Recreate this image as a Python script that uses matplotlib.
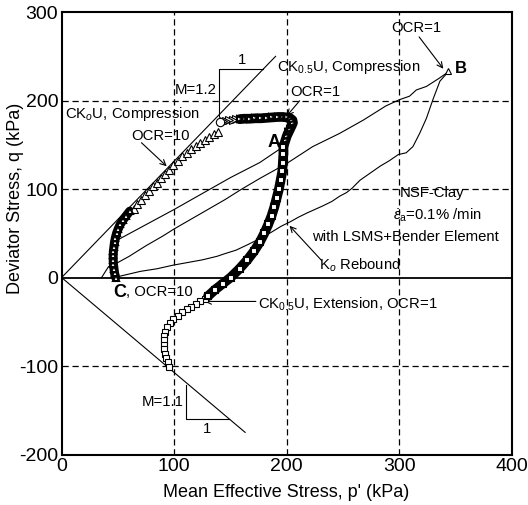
import matplotlib
matplotlib.use("Agg")
import matplotlib.pyplot as plt
from matplotlib.ticker import FuncFormatter

plt.rcParams["font.family"] = ["Liberation Sans", "DejaVu Sans"]
plt.rcParams["mathtext.fontset"] = "custom"
plt.rcParams["mathtext.rm"] = "Liberation Sans"
plt.rcParams["mathtext.it"] = "Liberation Sans:italic"
plt.rcParams["mathtext.bf"] = "Liberation Sans:bold"

# ---- stress paths (p', q) in kPa ----
# CK0U compression, OCR=10: dense start near C, then sparse triangles
ck0_dense_p = [48, 47, 46.5, 46, 45.8, 45.8, 46, 46.5, 47, 47.8, 48.8, 50.3, 52, 54.5, 57.5, 60.5]
ck0_dense_q = [0, 5, 10, 15, 20, 25, 30, 35, 40, 45, 50, 55, 60, 65, 70, 75]
ck0_p = [64, 67, 70.5, 74, 77.5, 81, 84.5, 88, 91.5, 95, 99, 103, 107, 111, 115, 119, 123, 127, 131, 135, 139]
ck0_q = [78, 83, 88, 93, 98, 103, 107, 112, 117, 122, 127, 132, 137, 141, 145, 149, 152, 156, 159, 162, 165]

# CK0.5U compression, OCR=1 (from A)
comp_dense_p = [197, 198, 199, 200, 201.5, 203, 204.5, 205.5, 205, 203, 200, 196, 192, 187, 182, 177, 172, 167, 162, 158]
comp_dense_q = [148, 152, 156, 160, 164, 168, 172, 175, 178, 180, 181, 181.5, 181.5, 181, 180.5, 180, 180, 179.5, 179.5, 179]
comp_p = [155, 152, 149, 146, 143]
comp_q = [179, 178.5, 178, 177.5, 177]
comp_end_p = [141]
comp_end_q = [176]

# CK0.5U extension, OCR=1 (from A)
ext_dense_p = [197, 197, 196.5, 196, 194.5, 193, 191, 189, 186.5, 183.5, 180, 176, 171, 165, 158, 150, 143, 136, 130]
ext_dense_q = [148, 140, 130, 120, 110, 100, 90, 80, 70, 60, 50, 40, 30, 20, 10, 0, -7, -14, -21]
ext_p = [127, 123, 119, 115, 111, 107, 103, 99, 96, 93.5, 92, 91, 90.5, 90.5, 91, 92, 93, 94.5, 95.5]
ext_q = [-24, -27, -30, -33, -36, -39, -43, -47, -51, -56, -61, -66, -71, -76, -81, -86, -91, -96, -101]

# K0 loading to B
load_p = [35.5, 38, 41.5, 45, 50, 60, 75, 90, 100, 115, 130, 145, 160, 176, 200, 223, 247, 268, 283, 288, 300, 309, 315, 324, 335, 343]
load_q = [0, 5, 12, 16, 17, 24, 36, 47, 55, 66, 77, 88, 100, 112, 129, 148, 163, 178, 190, 194, 201, 205, 212, 216, 225, 232]

# K0 rebound from B to C
reb_p = [343, 336, 330, 324, 318, 312, 306, 299, 291, 283, 274, 265, 258, 253, 247, 240, 232, 225, 218, 210,
         203, 195, 186, 176, 165, 155, 145, 138, 125, 112, 99, 85, 70, 60, 50]
reb_q = [232, 222, 202, 180, 163, 148, 141, 139, 132, 126, 118, 110, 101, 96, 92, 86, 81, 77, 73, 68,
         63, 58, 51, 44, 37, 31, 27, 24, 20, 17, 14, 10, 7, 4, 1]

# K0 line to A
toA_p = [49, 100, 150, 176, 197]
toA_q = [42, 77, 113, 130, 148]

# critical state lines and slope triangles
mc_p = [0, 190]
mc_q = [0, 250]
me_p = [0, 163]
me_q = [0, -175]
tri_c_p = [139.6, 139.6, 178.5]
tri_c_q = [182.7, 236, 236]
tri_e_p = [110.6, 110.6, 148.6]
tri_e_q = [-121, -160.3, -160.3]

point_B = (343, 233)

x_ticks = [0, 100, 200, 300, 400]
y_ticks = [-200, -100, 0, 100, 200, 300]

fig = plt.figure(figsize=(5.28, 5.05), dpi=100)
ax = fig.add_axes([0.1167, 0.1, 0.853, 0.876])

ax.set_xlim(0, 400)
ax.set_ylim(-200, 300)
ax.set_xticks(x_ticks)
ax.set_yticks(y_ticks)
plain = FuncFormatter(lambda v, pos: "%d" % v)
ax.xaxis.set_major_formatter(plain)
ax.yaxis.set_major_formatter(plain)
ax.tick_params(length=0, pad=2.5, labelsize=14)
for s in ax.spines.values():
    s.set_linewidth(1.5)

for x in [100, 200, 300]:
    ax.axvline(x, color="black", lw=0.9, ls=(0, (5, 3)), zorder=1)
for y in [-100, 100, 200]:
    ax.axhline(y, color="black", lw=0.9, ls=(0, (5, 3)), zorder=1)
ax.axhline(0, color="black", lw=1.3, zorder=2)

thin = dict(color="black", lw=0.8, zorder=3)
ax.plot(mc_p, mc_q, **thin)
ax.plot(me_p, me_q, **thin)
ax.plot(tri_c_p, tri_c_q, **thin)
ax.plot(tri_e_p, tri_e_q, **thin)
ax.plot(load_p, load_q, **thin)
ax.plot(reb_p, reb_q, **thin)
ax.plot(toA_p, toA_q, **thin)

mk = dict(mfc="white", mec="black", mew=0.8, ls="none", zorder=4)
dk = dict(mfc="white", mec="black", mew=1.5, ls="none", zorder=5)
# dense marker runs drawn as a heavy band with heavy-edged markers on top
ax.plot(ck0_dense_p, ck0_dense_q, color="black", lw=6.5, solid_capstyle="round", zorder=4)
ax.plot(ck0_dense_p, ck0_dense_q, marker="^", ms=4.5, **dk)
ax.plot(ck0_p, ck0_q, marker="^", ms=6, **mk)

ax.plot(comp_dense_p, comp_dense_q, color="black", lw=7, solid_capstyle="round", zorder=4)
ax.plot(comp_dense_p, comp_dense_q, marker=">", ms=4.5, **dk)
ax.plot(comp_p, comp_q, marker=">", ms=5.5, **mk)
ax.plot(comp_end_p, comp_end_q, marker="o", ms=6, **mk)

ax.plot(ext_dense_p, ext_dense_q, color="black", lw=7, solid_capstyle="round", zorder=4)
ax.plot(ext_dense_p, ext_dense_q, marker="s", ms=4, **dk)
ax.plot(ext_p, ext_q, marker="s", ms=5, **mk)

ax.plot([point_B[0]], [point_B[1]], marker="^", ms=5, **mk)

ax.set_xlabel("Mean Effective Stress, p' (kPa)", fontsize=13)
ax.set_ylabel("Deviator Stress, q (kPa)", fontsize=13)
ax.xaxis.set_label_coords(0.498, -0.066)
ax.yaxis.set_label_coords(-0.083, 0.578)

fs = 10.7
arr = dict(arrowstyle="->", color="black", lw=0.8, shrinkA=0, shrinkB=0, mutation_scale=10)

ax.text(315.4, 281.5, "OCR=1", fontsize=fs, ha="center", va="center")
ax.annotate("", xy=(339, 236), xytext=(317.5, 272), arrowprops=arr)
ax.text(355, 236, "B", fontsize=12, fontweight="bold", ha="center", va="center", zorder=6)
ax.text(191, 237.8, r"CK$_{0.5}$U, Compression", fontsize=fs, ha="left", va="center")
ax.text(160, 245.4, "1", fontsize=fs, ha="center", va="center")
ax.text(137.5, 212, "M=1.2", fontsize=fs, ha="right", va="center")
ax.text(203, 209.3, "OCR=1", fontsize=fs, ha="left", va="center")
ax.annotate("", xy=(200, 182.7), xytext=(211.4, 199.8), arrowprops=arr)
ax.text(2.7, 184.7, r"CK$_o$U, Compression", fontsize=fs, ha="left", va="center")
ax.text(88, 160, "OCR=10", fontsize=fs, ha="center", va="center")
ax.annotate("", xy=(93.3, 125.8), xytext=(70.9, 152.4), arrowprops=arr)
ax.text(189, 152.4, "A", fontsize=13, fontweight="bold", ha="center", va="center", zorder=6)
ax.text(329.4, 95.4, "NSF-Clay", fontsize=fs, ha="center", va="center")
ax.text(334, 70.7, r"$\dot{\varepsilon}_{\mathrm{a}}$=0.1% /min", fontsize=fs, ha="center", va="center")
ax.text(305.5, 46, "with LSMS+Bender Element", fontsize=fs, ha="center", va="center")
ax.text(265.2, 13.7, r"K$_o$ Rebound", fontsize=fs, ha="center", va="center")
ax.annotate("", xy=(202.4, 58.5), xytext=(230.8, 19.4), arrowprops=arr)
ax.text(51.4, -16.7, "C", fontsize=13, fontweight="bold", ha="center", va="center")
ax.text(57.5, -16.7, ", OCR=10", fontsize=fs, ha="left", va="center")
ax.text(174, -30, r"CK$_{0.5}$U, Extension, OCR=1", fontsize=fs, ha="left", va="center")
ax.annotate("", xy=(127, -27), xytext=(172.5, -27), arrowprops=arr)
ax.text(89.4, -140.2, "M=1.1", fontsize=fs, ha="center", va="center")
ax.text(129.1, -171.7, "1", fontsize=fs, ha="center", va="center")

fig.savefig("out.png", dpi=100)
